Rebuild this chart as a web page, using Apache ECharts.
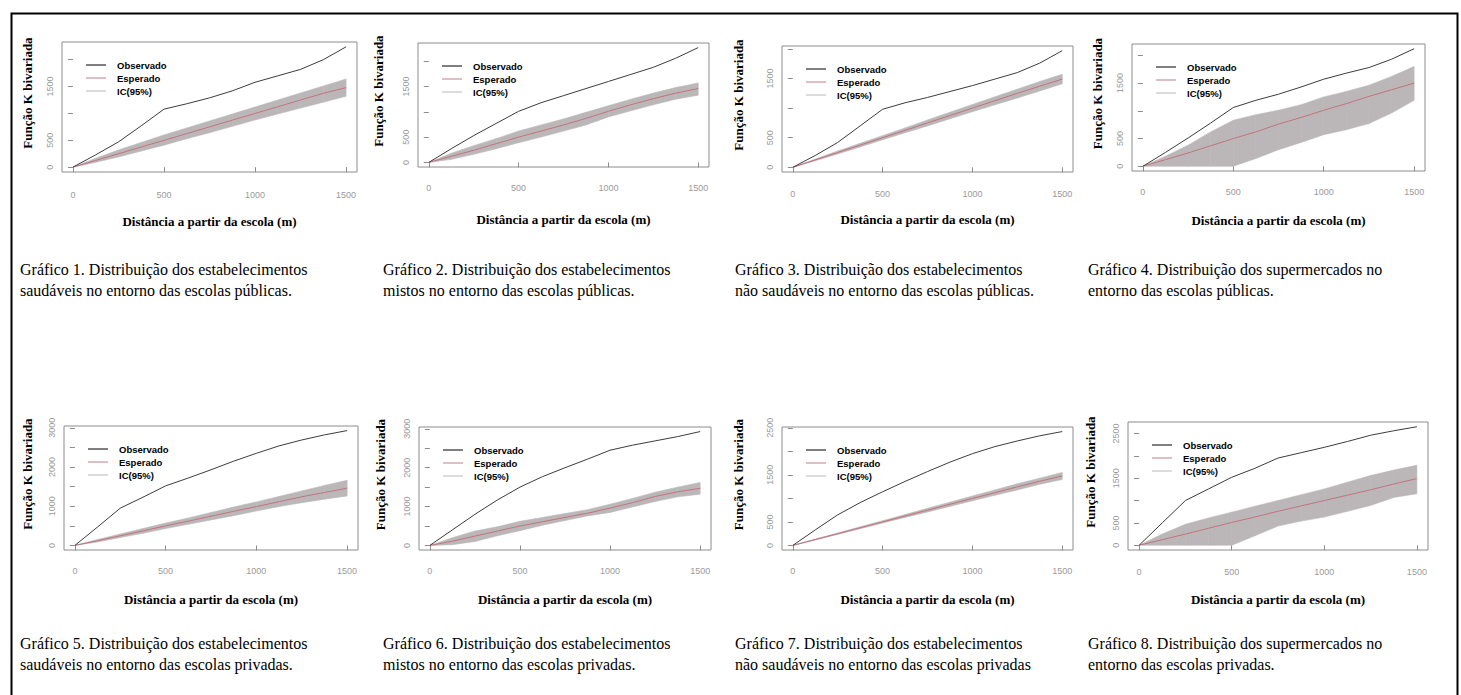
<!DOCTYPE html>
<html><head><meta charset="utf-8">
<script src="https://cdn.jsdelivr.net/npm/echarts@6/dist/echarts.min.js"></script>
<style>html,body{margin:0;padding:0;background:#fff;overflow:hidden}#c{width:1461px;height:695px}</style>
</head><body><div id="c"></div>
<script>
// ---------- data ----------
const distancias = [0,125,250,375,500,625,750,875,1000,1125,1250,1375,1500];
const xTicks = [0,500,1000,1500];

// Gráfico 1
const observado1 = [0,230,470,770,1080,1180,1290,1420,1580,1700,1820,2000,2240];
const esperado1  = [0,125,250,375,500,625,750,875,1000,1125,1250,1375,1480];
const icInf1     = [0,90,190,300,410,530,640,760,880,990,1100,1210,1320];
const icSup1     = [0,165,320,460,600,730,860,990,1120,1250,1380,1510,1640];
// Gráfico 2
const observado2 = [0,270,530,770,1010,1180,1320,1460,1600,1740,1880,2060,2270];
const esperado2  = [0,120,240,370,500,620,740,870,1010,1140,1260,1370,1460];
const icInf2     = [0,60,160,270,390,500,620,740,900,1020,1140,1250,1330];
const icSup2     = [0,180,330,470,620,740,860,990,1120,1250,1370,1480,1570];
// Gráfico 3
const observado3 = [0,200,420,700,980,1090,1180,1280,1380,1490,1600,1760,1970];
const esperado3  = [0,125,250,375,500,625,750,875,1000,1125,1250,1370,1490];
const icInf3     = [0,110,225,345,465,585,700,820,940,1055,1170,1290,1410];
const icSup3     = [0,140,275,405,535,665,800,930,1060,1190,1320,1450,1570];
// Gráfico 4
const observado4 = [0,250,510,780,1060,1190,1300,1430,1570,1680,1780,1930,2120];
const esperado4  = [0,120,240,370,500,620,760,880,1010,1130,1260,1380,1500];
const icInf4     = [0,0,0,0,0,140,300,430,570,660,770,960,1190];
const icSup4     = [0,180,380,620,830,930,1010,1110,1250,1350,1460,1620,1800];
// Gráfico 5
const observado5 = [0,470,950,1230,1520,1720,1930,2150,2350,2540,2690,2820,2930];
const esperado5  = [0,120,245,370,500,620,745,870,990,1115,1240,1350,1460];
const icInf5     = [0,90,200,310,430,540,650,760,880,990,1090,1180,1260];
const icSup5     = [0,150,290,430,570,700,840,980,1110,1250,1390,1530,1660];
// Gráfico 6
const observado6 = [0,400,800,1170,1500,1770,2000,2220,2450,2580,2690,2800,2930];
const esperado6  = [0,110,240,370,500,610,720,830,960,1100,1260,1380,1470];
const icInf6     = [0,20,100,250,380,520,640,760,850,990,1130,1250,1320];
const icSup6     = [0,200,370,480,620,720,820,920,1060,1210,1370,1500,1620];
// Gráfico 7
const observado7 = [0,330,650,910,1140,1360,1570,1770,1950,2100,2220,2330,2420];
const esperado7  = [0,125,250,375,500,625,750,875,1000,1120,1245,1365,1475];
const icInf7     = [0,115,235,355,475,595,710,830,950,1065,1180,1300,1400];
const icSup7     = [0,135,265,395,525,655,790,920,1050,1180,1310,1430,1550];
// Gráfico 8
const observado8 = [0,500,1000,1260,1520,1720,1950,2070,2190,2320,2460,2560,2650];
const esperado8  = [0,125,250,380,510,630,760,880,1000,1120,1240,1370,1490];
const icInf8     = [0,0,0,0,0,210,430,540,630,760,890,1070,1150];
const icSup8     = [0,250,470,610,740,870,1000,1130,1260,1410,1560,1680,1790];

// y-axis ticks and labels (R hides overlapping labels)
const yTicks1 = [0,500,1000,1500,2000], yLabels1 = [0,500,1500];
const yTicks2 = [0,500,1000,1500,2000], yLabels2 = [0,500,1500];
const yTicks3 = [0,500,1000,1500,2000], yLabels3 = [0,500,1500];
const yTicks4 = [0,500,1000,1500,2000], yLabels4 = [0,500,1500];
const yTicks5 = [0,500,1000,1500,2000,2500,3000], yLabels5 = [0,1000,2000,3000];
const yTicks6 = [0,500,1000,1500,2000,2500,3000], yLabels6 = [0,1000,2000,3000];
const yTicks7 = [0,500,1000,1500,2000,2500], yLabels7 = [0,500,1500,2500];
const yTicks8 = [0,500,1000,1500,2000,2500], yLabels8 = [0,500,1500,2500];

const yTitle = 'Função K bivariada';
const xTitle = 'Distância a partir da escola (m)';
const captions = [
  'Gráfico 1. Distribuição dos estabelecimentos\nsaudáveis no entorno das escolas públicas.',
  'Gráfico 2. Distribuição dos estabelecimentos\nmistos no entorno das escolas públicas.',
  'Gráfico 3. Distribuição dos estabelecimentos\nnão saudáveis no entorno das escolas públicas.',
  'Gráfico 4. Distribuição dos supermercados no\nentorno das escolas públicas.',
  'Gráfico 5. Distribuição dos estabelecimentos\nsaudáveis no entorno das escolas privadas.',
  'Gráfico 6. Distribuição dos estabelecimentos\nmistos no entorno das escolas privadas.',
  'Gráfico 7. Distribuição dos estabelecimentos\nnão saudáveis no entorno das escolas privadas',
  'Gráfico 8. Distribuição dos supermercados no\nentorno das escolas privadas.'
];

const panels = [
  {obs:observado1, esp:esperado1, inf:icInf1, sup:icSup1, yt:yTicks1, yl:yLabels1},
  {obs:observado2, esp:esperado2, inf:icInf2, sup:icSup2, yt:yTicks2, yl:yLabels2},
  {obs:observado3, esp:esperado3, inf:icInf3, sup:icSup3, yt:yTicks3, yl:yLabels3},
  {obs:observado4, esp:esperado4, inf:icInf4, sup:icSup4, yt:yTicks4, yl:yLabels4},
  {obs:observado5, esp:esperado5, inf:icInf5, sup:icSup5, yt:yTicks5, yl:yLabels5},
  {obs:observado6, esp:esperado6, inf:icInf6, sup:icSup6, yt:yTicks6, yl:yLabels6},
  {obs:observado7, esp:esperado7, inf:icInf7, sup:icSup7, yt:yTicks7, yl:yLabels7},
  {obs:observado8, esp:esperado8, inf:icInf8, sup:icSup8, yt:yTicks8, yl:yLabels8}
];

// ---------- layout (pixels) ----------
// [left, top, width, height, yNameGap, xLabelMargin, xNameGap]
const layout = [
  [62, 42, 295, 130, 28, 18, 43],
  [418, 43, 291, 124, 33, 16, 46],
  [782, 46, 291, 126, 37, 17, 41],
  [1132, 44, 293, 127, 28, 16, 43],
  [64, 426, 294, 124, 30, 16, 43],
  [419, 427, 292, 123, 32, 16, 43],
  [782, 427, 291, 123, 37, 16, 43],
  [1128, 422, 300, 128, 31, 17, 43]
];
const captionPos = [[20,259],[383,259],[735,259],[1088,259],[20,633],[383,633],[735,633],[1088,633]];

const gridColor = '#8c8c8c';
const tickLabelColor = '#9a9a9a';
const colObs = '#3c3c3c', colEsp = '#c2737d', colIC = '#bbb7b9';
const serif = '"Liberation Serif", "DejaVu Serif", serif';
const sans = '"Liberation Sans", Arial, sans-serif';
const plain = v => String(v);

const grid = [], xAxis = [], yAxis = [], series = [], legend = [], title = [];
panels.forEach((p, i) => {
  const L = layout[i];
  grid.push({left:L[0], top:L[1], width:L[2], height:L[3], show:true, borderColor:gridColor, borderWidth:1, backgroundColor:'transparent'});
  const xr = 1500;
  xAxis.push({
    type:'value', gridIndex:i, min:-0.04*xr, max:1500 + 0.04*xr,
    axisLine:{show:false}, splitLine:{show:false},
    axisTick:{show:true, customValues:xTicks, length:5, lineStyle:{color:gridColor}},
    axisLabel:{show:true, customValues:xTicks, formatter:plain, margin:L[5], fontSize:9, color:tickLabelColor, fontFamily:sans},
    name:xTitle, nameLocation:'middle', nameGap:L[6],
    nameTextStyle:{fontFamily:serif, fontWeight:'bold', fontSize:13, color:'#000'}
  });
  const lo = Math.min(0, ...p.inf);
  const hi = Math.max(...p.obs, ...p.sup);
  const pad = 0.04*(hi-lo);
  const ymin = lo - pad, ymax = hi + pad;
  const yt = p.yt.filter(v => v >= ymin && v <= ymax);
  yAxis.push({
    type:'value', gridIndex:i, min:ymin, max:ymax,
    axisLine:{show:false}, splitLine:{show:false},
    axisTick:{show:true, customValues:yt, length:5, lineStyle:{color:gridColor}},
    axisLabel:{show:true, customValues:p.yl, formatter:plain, rotate:90, margin:8, fontSize:9, color:tickLabelColor, fontFamily:sans},
    name:yTitle, nameLocation:'middle', nameGap:L[4], nameRotate:90,
    nameTextStyle:{fontFamily:serif, fontWeight:'bold', fontSize:13, color:'#000', padding:[0,0,0,28]}
  });
  const n = distancias.length;
  series.push({
    type:'custom', name:'IC(95%)', xAxisIndex:i, yAxisIndex:i, silent:true, color:colIC,
    data:distancias.map((d, k) => [d, p.inf[k], p.sup[k]]),
    encode:{x:0, y:[1,2]},
    renderItem:(params, api) => {
      const k = params.dataIndex;
      if (k >= n - 1) return null;
      const pts = [
        api.coord([distancias[k], p.inf[k]]),
        api.coord([distancias[k+1], p.inf[k+1]]),
        api.coord([distancias[k+1], p.sup[k+1]]),
        api.coord([distancias[k], p.sup[k]])
      ];
      return {type:'polygon', shape:{points:pts}, style:{fill:colIC, stroke:colIC, lineWidth:0.6}};
    }
  });
  const pts = arr => distancias.map((d, k) => [d, arr[k]]);
  series.push({
    type:'line', name:'Esperado', xAxisIndex:i, yAxisIndex:i, data:pts(p.esp),
    symbol:'none', silent:true, lineStyle:{width:1, color:colEsp}, color:colEsp
  });
  series.push({
    type:'line', name:'Observado', xAxisIndex:i, yAxisIndex:i, data:pts(p.obs),
    symbol:'none', silent:true, lineStyle:{width:1, color:colObs}, color:colObs
  });
  legend.push({
    data:[
      {name:'Observado', itemStyle:{color:'#555'}},
      {name:'Esperado', itemStyle:{color:'#d6a9af'}},
      {name:'IC(95%)', itemStyle:{color:'#d0d0d0'}}
    ],
    orient:'vertical', left:L[0]+19, top:L[1]+13, icon:'rect', itemWidth:20, itemHeight:1.5, itemGap:3,
    selectedMode:false,
    textStyle:{fontFamily:sans, fontWeight:'bold', fontSize:9.5, color:'#000', lineHeight:10, padding:[0,0,0,6]}
  });
  title.push({
    text:captions[i], left:captionPos[i][0], top:captionPos[i][1], padding:0,
    textStyle:{fontFamily:serif, fontWeight:'normal', fontSize:16, lineHeight:21, color:'#000'}
  });
});

const chart = echarts.init(document.getElementById('c'), null, {renderer:'svg', width:1461, height:695});
chart.setOption({
  animation:false,
  backgroundColor:'#fff',
  title, legend, grid, xAxis, yAxis, series,
  graphic:[{type:'rect', left:9, top:11, shape:{width:1446, height:700}, style:{fill:'none', stroke:'#000', lineWidth:2}, silent:true}]
});
</script>
</body></html>
